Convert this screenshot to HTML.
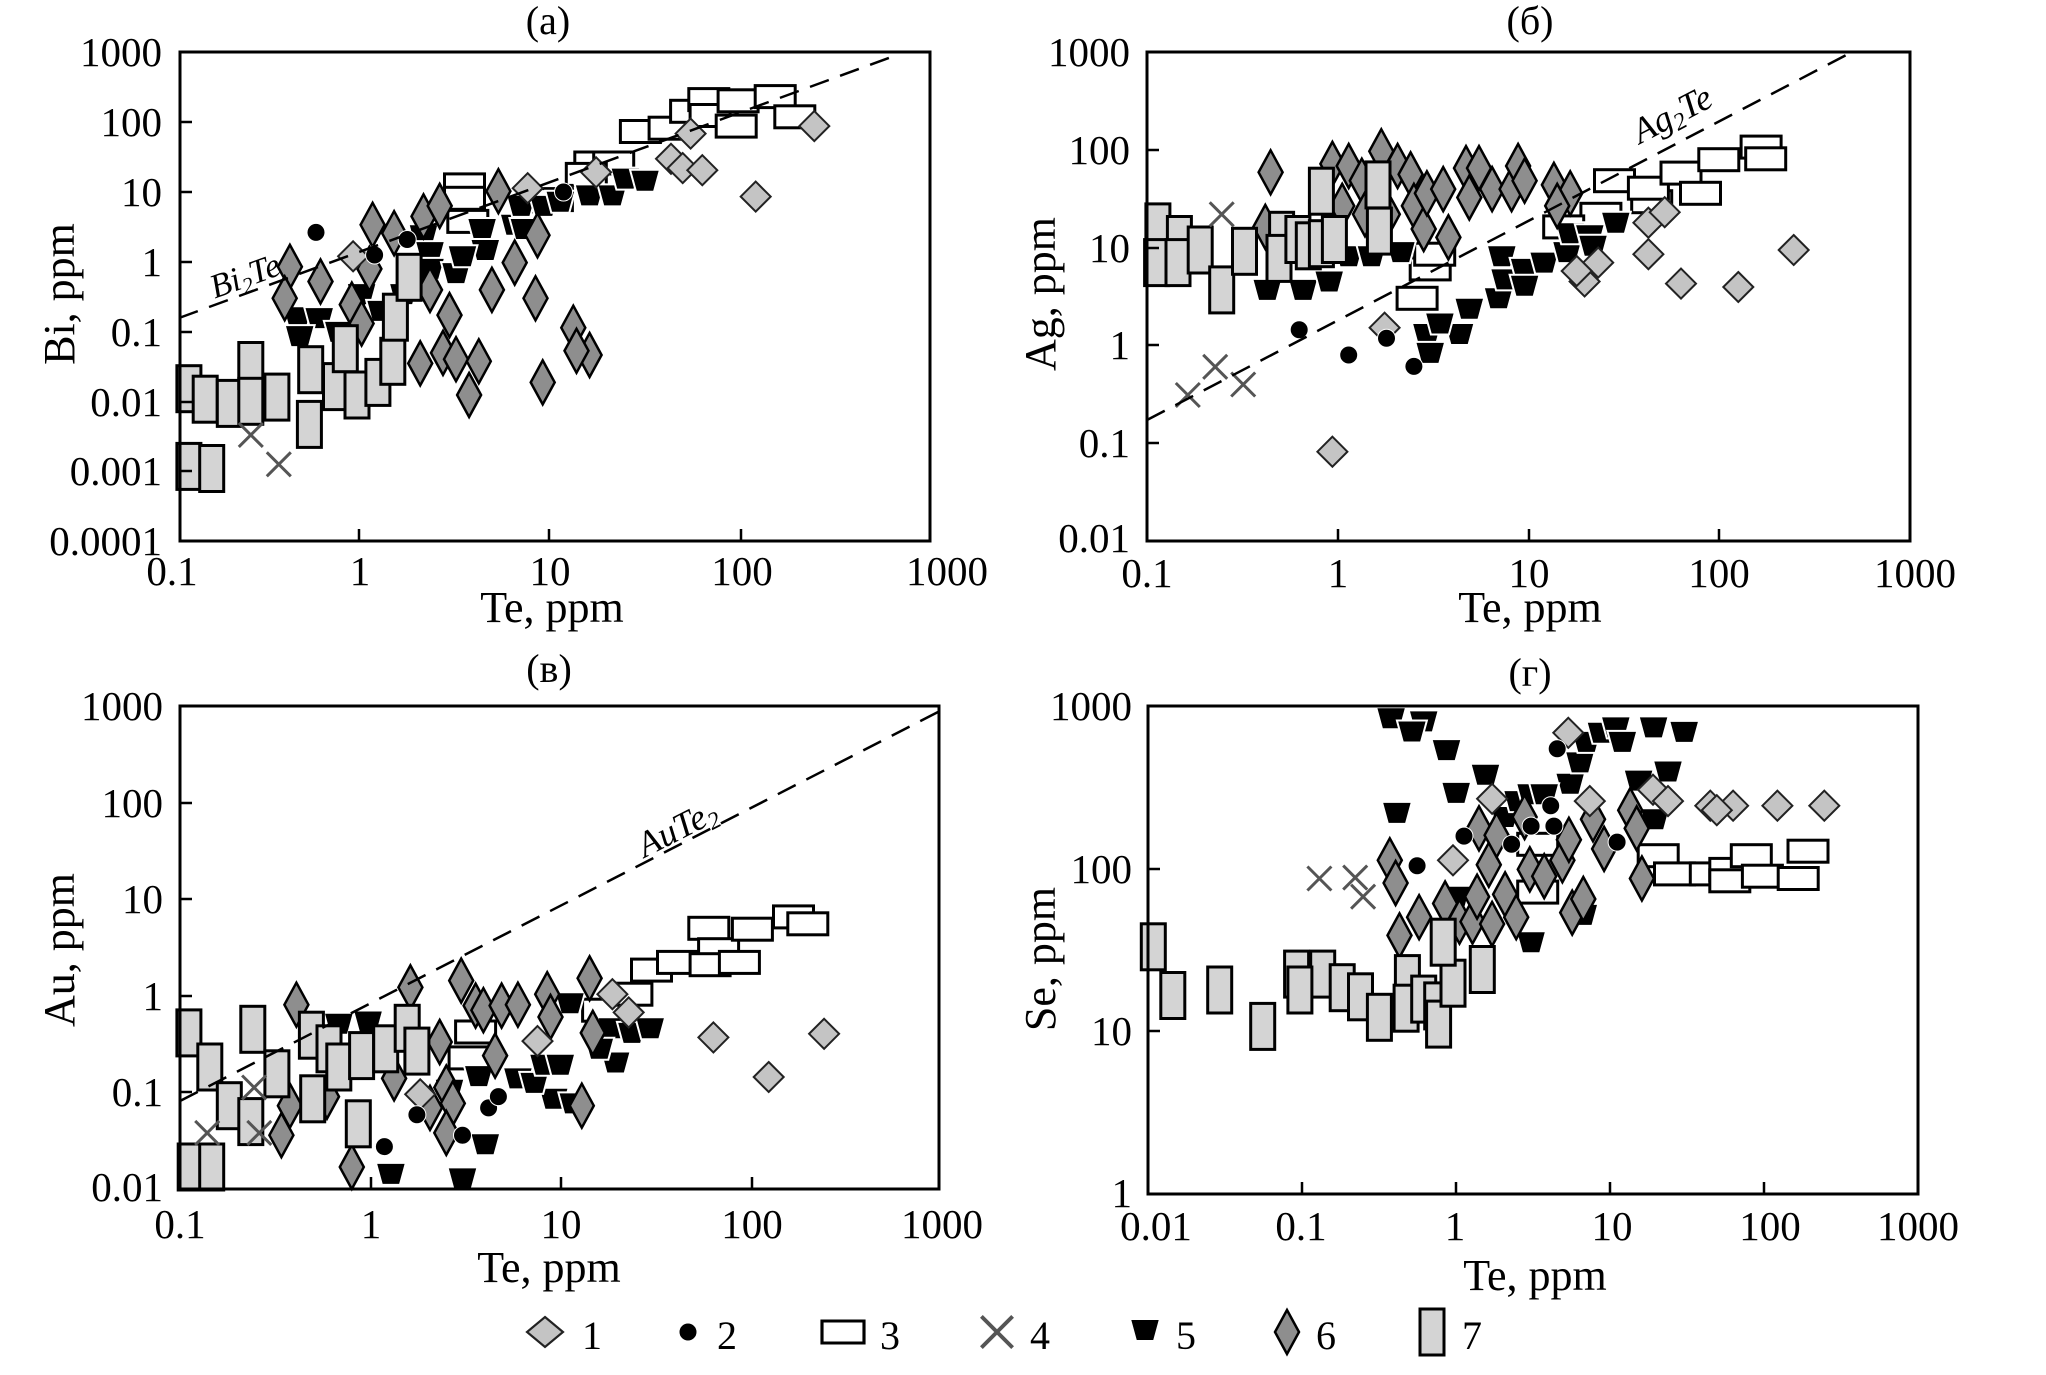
<!DOCTYPE html>
<html><head><meta charset="utf-8"><style>
html,body{margin:0;padding:0;background:#fff;}
svg{display:block;font-family:"Liberation Serif","Times New Roman",serif;}
text{font-family:"Liberation Serif","Times New Roman",serif;fill:#000;}
.tk{font-size:41px;}
.ax{font-size:44px;}
.tt{font-size:40px;}
.lg{font-size:40px;}
.fr{fill:none;stroke:#000;stroke-width:3;}
.t{stroke:#000;stroke-width:2.5;}
.ds{fill:none;stroke:#000;stroke-width:2.5;stroke-dasharray:20 12;}
</style></head><body>
<svg id="s" width="2046" height="1375" viewBox="0 0 2046 1375" xmlns="http://www.w3.org/2000/svg" font-family="Liberation Serif, serif">
<defs>
<g id="m1"><path d="M0,-15 L15,0 L0,15 L-15,0Z" fill="#c4c4c4" stroke="#222" stroke-width="2"/></g>
<g id="m2"><circle r="9" fill="#000" stroke="#fff" stroke-width="1"/></g>
<g id="m3"><rect x="-20" y="-11" width="40" height="22" fill="#fff" stroke="#000" stroke-width="3"/></g>
<g id="m4"><path d="M-12,-12 L12,12 M12,-12 L-12,12" stroke="#555" stroke-width="3" fill="none"/></g>
<g id="m5"><path d="M-15,-11 L15,-11 L9,11 L-9,11Z" fill="#000" stroke="#fff" stroke-width="2"/></g>
<g id="m6"><path d="M0,-22 L12,0 L0,22 L-12,0Z" fill="#8e8e8e" stroke="#000" stroke-width="2.5"/></g>
<g id="m7"><rect x="-12" y="-23" width="24" height="46" fill="#d4d4d4" stroke="#000" stroke-width="3"/></g>
</defs>

<!-- titles -->
<text class="tt" x="548" y="34" text-anchor="middle">(a)</text>
<text class="tt" x="1530" y="34" text-anchor="middle">(б)</text>
<text class="tt" x="549" y="682" text-anchor="middle">(в)</text>
<text class="tt" x="1530" y="686" text-anchor="middle">(г)</text>

<g id="markers"></g>

<!-- dashed lines -->
<line class="ds" x1="179" y1="318" x2="897" y2="55"/>
<line class="ds" x1="1147" y1="420" x2="1852" y2="52"/>
<line class="ds" x1="180" y1="1101" x2="938" y2="712"/>

<text x="245" y="287" font-size="34" text-anchor="middle" transform="rotate(-20 245 276)" style="font-style:italic">Bi<tspan font-size="22" dy="6">2</tspan><tspan dy="-6">Te</tspan></text>
<text x="1672" y="126" font-size="36" text-anchor="middle" transform="rotate(-27.5 1672 114)" style="font-style:italic">Ag<tspan font-size="24" dy="6">2</tspan><tspan dy="-6">Te</tspan></text>
<text x="677" y="840" font-size="36" text-anchor="middle" transform="rotate(-27 677 828)" style="font-style:italic">AuTe<tspan font-size="24" dy="6">2</tspan></text>

<!-- Panel a -->
<rect class="fr" x="180" y="52" width="750" height="489"/>
<path class="t" d="M359,541v-12 M549,541v-12 M741,541v-12 M180,122h12 M180,192h12 M180,262h12 M180,332h12 M180,402h12 M180,471h12"/>
<g class="tk" text-anchor="end">
<text x="162" y="66">1000</text><text x="162" y="136">100</text><text x="162" y="206">10</text><text x="162" y="276">1</text>
<text x="162" y="346">0.1</text><text x="162" y="416">0.01</text><text x="162" y="485">0.001</text><text x="162" y="555">0.0001</text>
</g>
<g class="tk" text-anchor="middle">
<text x="172" y="585">0.1</text><text x="360" y="585">1</text><text x="550" y="585">10</text><text x="742" y="585">100</text><text x="947" y="585">1000</text>
</g>
<text class="ax" x="552" y="622" text-anchor="middle">Te, ppm</text>
<text class="ax" x="74" y="294" text-anchor="middle" transform="rotate(-90 74 294)">Bi, ppm</text>

<!-- Panel b -->
<rect class="fr" x="1147" y="52" width="763" height="489"/>
<path class="t" d="M1338,541v-12 M1529,541v-12 M1719,541v-12 M1147,150h12 M1147,248h12 M1147,345h12 M1147,443h12"/>
<g class="tk" text-anchor="end">
<text x="1130" y="66">1000</text><text x="1130" y="164">100</text><text x="1130" y="262">10</text><text x="1130" y="359">1</text>
<text x="1130" y="457">0.1</text><text x="1130" y="552">0.01</text>
</g>
<g class="tk" text-anchor="middle">
<text x="1147" y="587">0.1</text><text x="1338" y="587">1</text><text x="1529" y="587">10</text><text x="1719" y="587">100</text><text x="1915" y="587">1000</text>
</g>
<text class="ax" x="1530" y="622" text-anchor="middle">Te, ppm</text>
<text class="ax" x="1055" y="294" text-anchor="middle" transform="rotate(-90 1055 294)">Ag, ppm</text>

<!-- Panel c -->
<rect class="fr" x="180" y="706" width="759" height="483"/>
<path class="t" d="M371,1189v-12 M561,1189v-12 M752,1189v-12 M180,803h12 M180,899h12 M180,996h12 M180,1092h12"/>
<g class="tk" text-anchor="end">
<text x="163" y="720">1000</text><text x="163" y="817">100</text><text x="163" y="913">10</text><text x="163" y="1010">1</text>
<text x="163" y="1106">0.1</text><text x="163" y="1201">0.01</text>
</g>
<g class="tk" text-anchor="middle">
<text x="180" y="1238">0.1</text><text x="371" y="1238">1</text><text x="561" y="1238">10</text><text x="752" y="1238">100</text><text x="942" y="1238">1000</text>
</g>
<text class="ax" x="549" y="1282" text-anchor="middle">Te, ppm</text>
<text class="ax" x="74" y="950" text-anchor="middle" transform="rotate(-90 74 950)">Au, ppm</text>

<!-- Panel d -->
<rect class="fr" x="1148" y="706" width="770" height="488"/>
<path class="t" d="M1302,1194v-12 M1456,1194v-12 M1610,1194v-12 M1764,1194v-12 M1148,869h12 M1148,1031h12"/>
<g class="tk" text-anchor="end">
<text x="1132" y="720">1000</text><text x="1132" y="883">100</text><text x="1132" y="1045">10</text><text x="1132" y="1207">1</text>
</g>
<g class="tk" text-anchor="middle">
<text x="1156" y="1240">0.01</text><text x="1301" y="1240">0.1</text><text x="1455" y="1240">1</text><text x="1612" y="1240">10</text><text x="1770" y="1240">100</text><text x="1918" y="1240">1000</text>
</g>
<text class="ax" x="1535" y="1290" text-anchor="middle">Te, ppm</text>
<text class="ax" x="1055" y="959" text-anchor="middle" transform="rotate(-90 1055 959)">Se, ppm</text>

<!-- legend -->
<use href="#m1" transform="translate(545,1332) scale(1.2,1)"/>
<text class="lg" x="582" y="1349">1</text>
<use href="#m2" x="688" y="1332"/>
<text class="lg" x="717" y="1349">2</text>
<use href="#m3" transform="translate(843,1332) scale(1.05,1)"/>
<text class="lg" x="880" y="1349">3</text>
<use href="#m4" transform="translate(997,1332) scale(1.3)"/>
<text class="lg" x="1030" y="1349">4</text>
<use href="#m5" x="1145" y="1330"/>
<text class="lg" x="1176" y="1349">5</text>
<use href="#m6" x="1287" y="1332"/>
<text class="lg" x="1316" y="1349">6</text>
<use href="#m7" x="1432" y="1332"/>
<text class="lg" x="1462" y="1349">7</text>
</svg>
<script>
(function(){
var NS="http://www.w3.org/2000/svg";
var g=document.getElementById("markers");
var P={
a:{ox:0,oy:0,sx:1/1.535,sy:1/2.38},
b:{ox:1023,oy:0,sx:1/1.535,sy:1/2.38},
c:{ox:0,oy:660,sx:1/1.535,sy:1/2.199},
d:{ox:1023,oy:660,sx:1/1.535,sy:1/2.197}
};
var D={
a:{
3:[[983,313],[1027,305],[1060,265],[1088,237],[1090,275],[1133,240],[1130,300],[1190,230],[1220,278],[913,388],[942,388],[713,440],[713,472],[718,527],[825,478],[848,475],[900,415]],
5:[[457,755],[490,757],[520,790],[460,800],[555,700],[585,740],[650,560],[660,600],[660,640],[700,650],[740,545],[745,595],[790,535],[800,490],[835,490],[860,480],[905,465],[940,465],[960,425],[990,430],[805,545],[710,610],[620,700]],
6:[[445,635],[437,710],[492,670],[572,535],[605,555],[567,640],[540,725],[650,515],[675,490],[660,690],[690,750],[680,840],[700,855],[645,865],[735,860],[720,940],[765,455],[755,690],[790,625],[825,560],[822,710],[880,780],[905,845],[885,835],[833,910],[555,770]],
7:[[290,925],[315,950],[352,960],[385,870],[385,955],[425,945],[290,1110],[325,1115],[477,880],[475,1010],[515,920],[530,830],[548,940],[580,910],[603,860],[607,755],[628,660]],
1:[[1250,300],[1060,318],[1030,378],[1048,400],[1078,405],[1160,468],[810,448],[542,610],[915,410]],
2:[[485,553],[865,457],[575,607],[625,570]],
4:[[385,1035],[428,1105]]
},
b:{
3:[[625,640],[632,605],[605,710],[887,510],[908,430],[965,480],[960,448],[1010,412],[1040,460],[1068,380],[1133,350],[1140,378],[830,540]],
5:[[375,690],[430,690],[470,670],[500,610],[535,610],[580,600],[620,795],[625,840],[670,795],[685,735],[730,710],[735,610],[740,665],[770,640],[800,625],[770,680],[835,600],[840,555],[870,560],[875,585],[910,530],[640,770]],
6:[[380,410],[372,540],[475,390],[500,395],[520,430],[550,360],[575,395],[595,415],[490,490],[525,510],[560,510],[600,490],[615,545],[653,565],[620,460],[645,450],[680,400],[700,400],[685,470],[720,450],[750,450],[760,395],[770,430],[815,440],[840,460],[820,490]],
7:[[207,540],[205,625],[240,570],[238,625],[272,595],[305,690],[340,598],[397,560],[393,615],[422,570],[438,585],[458,580],[478,570],[458,455],[545,440],[547,550]],
1:[[1183,595],[960,530],[985,505],[960,605],[1010,675],[1098,683],[883,625],[862,670],[850,645],[555,780],[475,1075]],
2:[[424,785],[500,845],[558,805],[600,872]],
4:[[253,940],[295,873],[338,915],[305,510]]
},
c:{
3:[[730,818],[720,875],[925,770],[970,735],[1000,682],[1040,665],[1088,590],[1103,637],[1090,670],[1135,665],[1155,592],[1218,565],[1240,580]],
5:[[565,795],[520,800],[690,945],[735,915],[745,1065],[600,1130],[710,1140],[875,755],[940,810],[945,885],[970,820],[998,810],[850,965],[880,975],[795,920],[820,930],[835,890],[860,890],[920,855]],
6:[[455,758],[432,1045],[445,980],[502,960],[605,920],[630,720],[675,840],[708,705],[730,760],[742,770],[770,760],[795,758],[840,735],[845,785],[905,700],[910,820],[893,980],[760,870],[685,940],[695,975],[540,1115],[660,985],[685,1040]],
7:[[290,820],[322,895],[352,980],[388,812],[385,1015],[425,910],[478,825],[480,965],[505,855],[520,895],[555,870],[550,1020],[592,855],[625,810],[640,860],[292,1115],[325,1115]],
1:[[645,955],[1095,830],[1265,822],[1180,917],[965,775],[940,735],[825,838]],
2:[[590,1070],[640,1000],[710,1045],[750,985],[765,960]],
4:[[318,1040],[390,940],[398,1040]]
},
d:{
3:[[790,405],[790,510],[975,430],[1000,470],[1055,470],[1085,460],[1085,485],[1118,430],[1135,475],[1205,420],[1190,480]],
5:[[565,128],[615,135],[597,157],[650,198],[710,252],[665,292],[574,336],[840,272],[855,225],[865,180],[888,160],[910,148],[920,180],[968,148],[1015,158],[945,265],[990,245],[970,350],[740,345],[760,310],[780,295],[800,295],[780,620],[860,560],[665,520]],
6:[[563,440],[572,490],[578,605],[608,565],[648,535],[670,575],[690,575],[697,520],[700,370],[715,450],[727,385],[740,515],[757,565],[770,345],[778,460],[800,475],[828,440],[838,395],[875,350],[892,415],[932,330],[942,370],[950,480],[843,555],[860,525],[720,580]],
7:[[200,630],[230,737],[302,725],[368,805],[420,690],[460,690],[490,720],[518,740],[547,785],[590,700],[588,765],[615,745],[635,760],[638,800],[660,710],[645,620],[705,680],[425,725]],
1:[[837,160],[870,310],[720,305],[967,285],[990,310],[660,440],[1055,320],[1090,320],[1158,320],[1230,320],[1065,330]],
2:[[820,195],[677,387],[605,452],[750,405],[780,365],[815,365],[810,320],[912,400]],
4:[[455,480],[510,478],[522,520]]
}
};
var order=["3","5","6","7","1","2","4"];
for(var p in D){
  var c=P[p];
  for(var i=0;i<order.length;i++){
    var t=order[i], pts=D[p][t]||[];
    for(var j=0;j<pts.length;j++){
      var u=document.createElementNS(NS,"use");
      var x=c.ox+pts[j][0]*c.sx, y=c.oy+pts[j][1]*c.sy;
      u.setAttribute("href","#m"+t);
      u.setAttribute("x",x.toFixed(1));
      u.setAttribute("y",y.toFixed(1));
      g.appendChild(u);
    }
  }
}
})();
</script>
</body></html>
